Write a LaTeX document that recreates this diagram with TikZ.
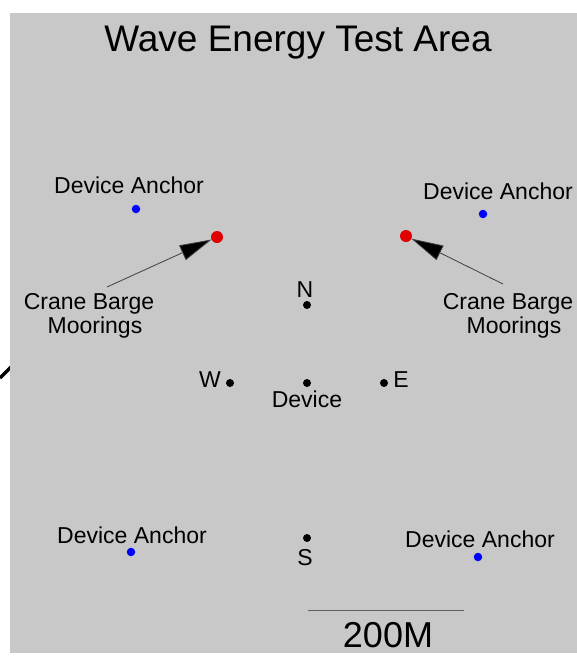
\documentclass[tikz,border=0pt]{standalone}
\usepackage{fontspec}
\setmainfont{Liberation Sans}
\usetikzlibrary{arrows.meta}
\definecolor{bggray}{HTML}{C8C8C8}
\definecolor{anchorblue}{HTML}{0000FF}
\definecolor{mooringred}{HTML}{E00000}
\definecolor{scalegray}{HTML}{606060}
\tikzset{
  lbl/.style={inner sep=0pt, anchor=base, font=\fontsize{23}{24}\selectfont},
  bigtxt/.style={inner sep=0pt, anchor=base, font=\fontsize{37}{40}\selectfont},
  bdot/.style={circle, fill=anchorblue, inner sep=0pt, minimum size=8.5pt},
  rdot/.style={circle, fill=mooringred, inner sep=0pt, minimum size=12pt},
  kdot/.style={circle, fill=black, inner sep=0pt, minimum size=8pt},
  arr/.style={draw=black!75, line width=0.8pt, -{Triangle[length=32pt,width=16pt,fill=black]}, shorten >=6pt}
}
\begin{document}
\begin{tikzpicture}[x=1pt,y=-1pt]
\useasboundingbox (0,0) rectangle (577,657);
% stray stroke at left edge
\coordinate (s1) at (0,378);
\coordinate (s2) at (11,367);
\draw[line width=3.5pt] (s1) -- (s2);
% background panel
\fill[bggray] (10,13) rectangle (577,653);
% title
\node[bigtxt] (title) at (298,51) {Wave Energy Test Area};
% device anchors
\node[lbl] (tlA) at (129,193) {Device Anchor};
\node[bdot] (tlD) at (136,209) {};
\node[lbl] (trA) at (498,199) {Device Anchor};
\node[bdot] (trD) at (483,214) {};
\node[lbl] (blA) at (132,543) {Device Anchor};
\node[bdot] (blD) at (131,552) {};
\node[lbl] (brA) at (480,547) {Device Anchor};
\node[bdot] (brD) at (478,557) {};
% crane barge moorings
\node[rdot] (rL) at (217,237) {};
\node[rdot] (rR) at (406,236) {};
\node[lbl] (cL1) at (89,309) {Crane Barge};
\node[lbl] (cL2) at (95,333) {Moorings};
\node[lbl] (cR1) at (508,309) {Crane Barge};
\node[lbl] (cR2) at (514,333) {Moorings};
\coordinate (tL) at (107,287);
\coordinate (tR) at (503,284);
\draw[arr] (tL) -- (rL.center);
\draw[arr] (tR) -- (rR.center);
% compass points and device
\node[kdot] (dN) at (307,305) {};
\node[lbl] (lN) at (305,297) {N};
\node[kdot] (dW) at (230,383) {};
\node[lbl] (lW) at (210,387) {W};
\node[kdot] (dC) at (307,383) {};
\node[lbl] (lC) at (307,407) {Device};
\node[kdot] (dE) at (384,383) {};
\node[lbl] (lE) at (401,387) {E};
\node[kdot] (dS) at (307,538) {};
\node[lbl] (lS) at (305,565) {S};
% scale bar
\coordinate (sb1) at (308,610);
\coordinate (sb2) at (464,610);
\draw[scalegray, line width=0.9pt] (sb1) -- (sb2);
\node[inner sep=0pt, anchor=base, font=\fontsize{36}{40}\selectfont] (sc) at (388,647) {200M};
\end{tikzpicture}
\end{document}
